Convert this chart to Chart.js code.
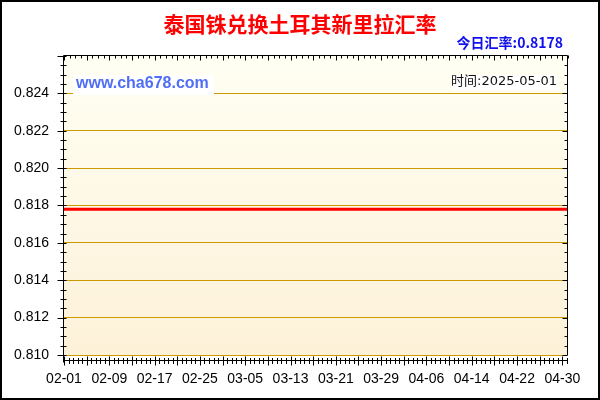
<!DOCTYPE html>
<html>
<head>
<meta charset="utf-8">
<script src="https://cdn.jsdelivr.net/npm/chart.js@4/dist/chart.umd.min.js"></script>
<style>
  body { margin: 0; background: #fff; }
  #wrap { width: 600px; height: 400px; }
</style>
</head>
<body>
<div id="wrap"><canvas id="chart-rate" width="600" height="400"></canvas></div>
<script>
// chart data
var chartTitle = "泰国铢兑换土耳其新里拉汇率";
var todayRate = "今日汇率:0.8178";
var siteText = "www.cha678.com";
var timeText = "时间:2025-05-01";

var dates = [
    "02-01", "02-02", "02-03", "02-04", "02-05", "02-06", "02-07", "02-08", "02-09", "02-10",
    "02-11", "02-12", "02-13", "02-14", "02-15", "02-16", "02-17", "02-18", "02-19", "02-20",
    "02-21", "02-22", "02-23", "02-24", "02-25", "02-26", "02-27", "02-28",
    "03-01", "03-02", "03-03", "03-04", "03-05", "03-06", "03-07", "03-08", "03-09", "03-10",
    "03-11", "03-12", "03-13", "03-14", "03-15", "03-16", "03-17", "03-18", "03-19", "03-20",
    "03-21", "03-22", "03-23", "03-24", "03-25", "03-26", "03-27", "03-28", "03-29", "03-30", "03-31",
    "04-01", "04-02", "04-03", "04-04", "04-05", "04-06", "04-07", "04-08", "04-09", "04-10",
    "04-11", "04-12", "04-13", "04-14", "04-15", "04-16", "04-17", "04-18", "04-19", "04-20",
    "04-21", "04-22", "04-23", "04-24", "04-25", "04-26", "04-27", "04-28", "04-29", "04-30",
    "05-01"
];

var rates = [
    0.8178, 0.8178, 0.8178, 0.8178, 0.8178, 0.8178, 0.8178, 0.8178, 0.8178, 0.8178,
    0.8178, 0.8178, 0.8178, 0.8178, 0.8178, 0.8178, 0.8178, 0.8178, 0.8178, 0.8178,
    0.8178, 0.8178, 0.8178, 0.8178, 0.8178, 0.8178, 0.8178, 0.8178,
    0.8178, 0.8178, 0.8178, 0.8178, 0.8178, 0.8178, 0.8178, 0.8178, 0.8178, 0.8178,
    0.8178, 0.8178, 0.8178, 0.8178, 0.8178, 0.8178, 0.8178, 0.8178, 0.8178, 0.8178,
    0.8178, 0.8178, 0.8178, 0.8178, 0.8178, 0.8178, 0.8178, 0.8178, 0.8178, 0.8178, 0.8178,
    0.8178, 0.8178, 0.8178, 0.8178, 0.8178, 0.8178, 0.8178, 0.8178, 0.8178, 0.8178,
    0.8178, 0.8178, 0.8178, 0.8178, 0.8178, 0.8178, 0.8178, 0.8178, 0.8178, 0.8178,
    0.8178, 0.8178, 0.8178, 0.8178, 0.8178, 0.8178, 0.8178, 0.8178, 0.8178, 0.8178,
    0.8178
];

var yMin = 0.810;
var yMax = 0.826;
var yStep = 0.002;
var labelEvery = 8;

var gridColor = '#cc9900';
var numFont = "'Liberation Sans', Arial, sans-serif";
var cjkFont = "'Noto Sans CJK SC', sans-serif";

// background, frame, tick marks and the text boxes
var decorPlugin = {
    id: 'decor',
    beforeDraw: function (chart) {
        var ctx = chart.ctx;
        var a = chart.chartArea;
        ctx.save();
        ctx.fillStyle = '#fff';
        ctx.fillRect(0, 0, chart.width, chart.height);
        var g = ctx.createLinearGradient(0, a.top, 0, a.bottom);
        g.addColorStop(0, '#fffff3');
        g.addColorStop(1, '#fdf1d8');
        ctx.fillStyle = g;
        ctx.fillRect(a.left, a.top, a.right - a.left, a.bottom - a.top);
        ctx.restore();
    },
    afterDraw: function (chart) {
        var ctx = chart.ctx;
        var a = chart.chartArea;
        var xs = chart.scales.x;
        var ys = chart.scales.y;
        var L = a.left - 0.5, R = a.right - 0.5, T = a.top - 0.5, B = a.bottom;
        var axisY = B + 5.5;

        ctx.save();
        // white boxes + watermark / time text
        ctx.fillStyle = '#fff';
        ctx.fillRect(a.left + 9, a.top + 19, 141, 20);
        ctx.fillRect(a.right - 116, a.top + 19, 106, 15);

        ctx.textBaseline = 'middle';
        ctx.fillStyle = '#4f6ef5';
        ctx.font = "bold 16px " + numFont;
        ctx.textAlign = 'left';
        ctx.fillText(siteText, a.left + 12, a.top + 28);

        ctx.fillStyle = '#111';
        ctx.font = "13px 'DejaVu Sans', " + cjkFont;
        ctx.textAlign = 'right';
        ctx.fillText(timeText, a.right - 11, a.top + 26);

        // frame
        ctx.strokeStyle = '#000';
        ctx.lineWidth = 1;
        ctx.beginPath();
        ctx.moveTo(L, T); ctx.lineTo(R, T);
        ctx.moveTo(R, T); ctx.lineTo(R, B);
        ctx.moveTo(L, T); ctx.lineTo(L, axisY + 2);
        ctx.moveTo(L, axisY); ctx.lineTo(R, axisY);
        ctx.stroke();

        // y tick marks, left outside and right inside
        ctx.beginPath();
        for (var k = 0; k <= 32; k++) {
            var py = Math.round(ys.getPixelForValue(yMin + k * 0.0005)) + 0.5;
            var major = (k % 4 === 0);
            ctx.moveTo(L - (major ? 6 : 3), py); ctx.lineTo(L + 3, py);
            if (k < 32) { ctx.moveTo(R - (major ? 5 : 3), py); ctx.lineTo(R, py); }
        }
        // top ticks, one per day
        for (var i = 0; i < dates.length; i++) {
            var px = Math.round(xs.getPixelForValue(i)) + 0.5;
            ctx.moveTo(px, T); ctx.lineTo(px, T + (i % 4 === 0 ? 5 : 3));
        }
        // bottom ticks, major every 4 days, 5 small steps between
        for (var j = 0; j <= (dates.length - 1) * 5 / 4; j++) {
            var bx = Math.round(xs.getPixelForValue(j * 0.8)) + 0.5;
            var big = (j % 5 === 0);
            ctx.moveTo(bx, axisY - (big ? 4 : 2.5)); ctx.lineTo(bx, axisY + (big ? 5 : 3.5));
        }
        ctx.stroke();

        // titles
        ctx.textAlign = 'center';
        ctx.fillStyle = '#ff0000';
        ctx.font = "bold 21px " + cjkFont;
        ctx.fillText(chartTitle, 300, 24);

        ctx.textAlign = 'right';
        ctx.fillStyle = '#1010ee';
        ctx.font = "bold 14px " + cjkFont;
        ctx.fillText(todayRate, 563, 43);

        // outer border
        ctx.lineWidth = 2;
        ctx.strokeRect(1, 1, chart.width - 2, chart.height - 2);
        ctx.restore();
    }
};

function createRateChart(id) {
    var ctx2 = document.getElementById(id).getContext("2d");
    return new Chart(ctx2, {
        type: "line",
        data: {
            labels: dates,
            datasets: [{
                label: "rate",
                data: rates,
                borderColor: "#ff0000",
                borderWidth: 3,
                pointRadius: 0,
                tension: 0,
                fill: false
            }]
        },
        options: {
            responsive: false,
            animation: false,
            devicePixelRatio: 1,
            layout: {
                padding: { top: 56, right: 32, left: 0, bottom: 0 }
            },
            plugins: {
                legend: { display: false },
                tooltip: { enabled: false }
            },
            scales: {
                x: {
                    offset: false,
                    afterFit: function (scale) { scale.height = 45; },
                    grid: { display: false, drawTicks: false },
                    border: { display: false },
                    ticks: {
                        autoSkip: false,
                        maxRotation: 0,
                        minRotation: 0,
                        padding: 16,
                        color: '#000',
                        font: { size: 14, family: numFont },
                        callback: function (val, i) {
                            return i % labelEvery === 0 ? dates[i] : '';
                        }
                    }
                },
                y: {
                    min: yMin,
                    max: yMax,
                    afterFit: function (scale) { scale.width = 64; },
                    grid: {
                        drawTicks: false,
                        lineWidth: 1,
                        color: function (c) {
                            return c.tick && c.tick.value > yMax - 0.0005 ? 'rgba(0,0,0,0)' : gridColor;
                        }
                    },
                    border: { display: false },
                    ticks: {
                        stepSize: yStep,
                        padding: 15,
                        color: '#000',
                        font: { size: 14, family: numFont },
                        callback: function (v) {
                            return v > yMax - 0.0005 ? '' : v.toFixed(3);
                        }
                    }
                }
            }
        },
        plugins: [decorPlugin]
    });
}

var chartRate = createRateChart("chart-rate");
</script>
</body>
</html>
